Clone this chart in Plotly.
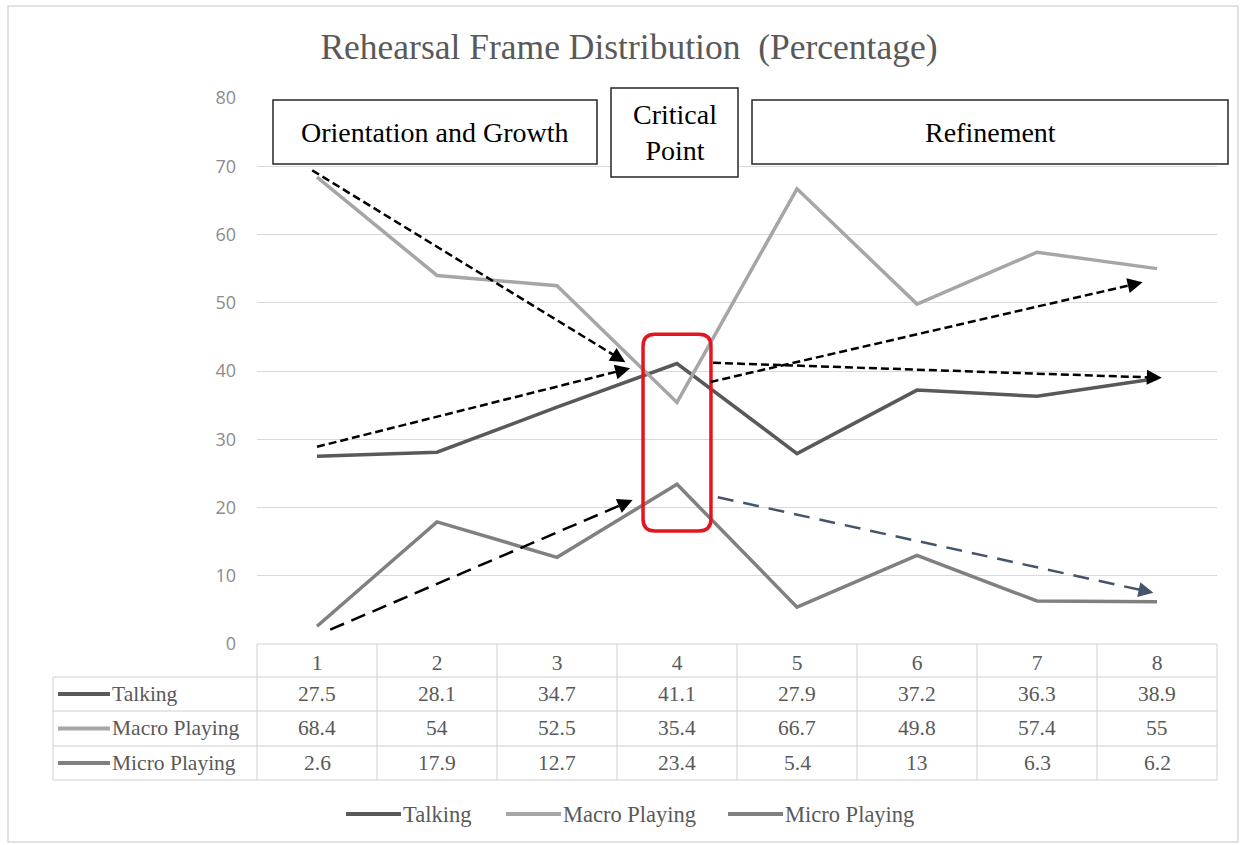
import plotly.graph_objects as go
import math

# ---------------- data ----------------
categories = [1, 2, 3, 4, 5, 6, 7, 8]
talking = [27.5, 28.1, 34.7, 41.1, 27.9, 37.2, 36.3, 38.9]
macro_playing = [68.4, 54, 52.5, 35.4, 66.7, 49.8, 57.4, 55]
micro_playing = [2.6, 17.9, 12.7, 23.4, 5.4, 13, 6.3, 6.2]
series_names = ["Talking", "Macro Playing", "Micro Playing"]
y_ticks = [0, 10, 20, 30, 40, 50, 60, 70, 80]
title_text = "Rehearsal Frame Distribution\u00a0\u00a0(Percentage)"
phase_labels = ["Orientation and Growth", "Critical<br>Point", "Refinement"]

# trend arrows: (start_x, start_y, tip_x, tip_y, dash, color)
trend_arrows = [
    (0.96, 69.4, 3.57, 41.3, "8px,4px", "#000000"),
    (1.00, 28.9, 3.61, 40.4, "8px,4px", "#000000"),
    (1.11, 2.1, 3.63, 21.1, "15px,8px", "#000000"),
    (4.28, 38.4, 7.88, 53.0, "8px,4px", "#000000"),
    (4.30, 41.2, 8.04, 39.0, "8px,4px", "#000000"),
    (4.34, 21.5, 7.97, 7.5, "16px,10px", "#44546a"),
]

colors = ["#595959", "#a6a6a6", "#808080"]
serif = "Liberation Serif, Times New Roman, serif"
text_gray = "#595959"
grid_gray = "#d9d9d9"

W, H = 1243, 845
ML, MR, MT, MB = 257, 26, 98, 201
plot_w = W - ML - MR
plot_h = H - MT - MB
PX_X = plot_w / 8.0     # px per category
PX_Y = plot_h / 80.0    # px per unit


def py_to_paper(py):
    return (H - MB - py) / plot_h


def px_to_paper(px):
    return (px - ML) / plot_w


fig = go.Figure()
for name, vals, col in zip(series_names, [talking, macro_playing, micro_playing], colors):
    fig.add_trace(go.Scatter(x=categories, y=vals, mode="lines", name=name,
                             line=dict(color=col, width=3.5), showlegend=False))

shapes = []
annotations = []

# ---------------- data table below plot ----------------
row_lines_px = [644, 677, 711, 746, 780]
row_y = [py_to_paper(v) for v in row_lines_px]
table_left = px_to_paper(53)
line_style = dict(color="#d0d0d0", width=1)
for i, yv in enumerate(row_y):
    x0 = 0 if i == 0 else table_left
    shapes.append(dict(type="line", xref="paper", yref="paper", x0=x0, x1=1, y0=yv, y1=yv,
                       line=line_style, layer="below"))
shapes.append(dict(type="line", xref="paper", yref="paper", x0=table_left, x1=table_left,
                   y0=row_y[1], y1=row_y[-1], line=line_style))
for k in range(9):
    xv = k / 8.0
    shapes.append(dict(type="line", xref="paper", yref="paper", x0=xv, x1=xv,
                       y0=row_y[0], y1=row_y[-1], line=line_style))

table_font = dict(family=serif, size=21.5, color=text_gray)
for r, (name, vals, col) in enumerate(zip(series_names, [talking, macro_playing, micro_playing], colors)):
    yc = (row_y[r + 1] + row_y[r + 2]) / 2
    shapes.append(dict(type="line", xref="paper", yref="paper", x0=px_to_paper(58), x1=px_to_paper(110),
                       y0=yc, y1=yc, line=dict(color=col, width=4)))
    annotations.append(dict(text=name, xref="paper", yref="paper", x=px_to_paper(110), y=yc,
                            xanchor="left", yanchor="middle", showarrow=False, font=table_font))
    for c, v in zip(categories, vals):
        annotations.append(dict(text=f"{v:g}", xref="x", yref="paper", x=c, y=yc,
                                xanchor="center", yanchor="middle", showarrow=False, font=table_font))

# ---------------- bottom legend (drawn) ----------------
legend_line_px = [346, 506, 728]
legend_font = dict(family=serif, size=22.5, color=text_gray)
ly = py_to_paper(814)
for name, col, lx in zip(series_names, colors, legend_line_px):
    shapes.append(dict(type="line", xref="paper", yref="paper", x0=px_to_paper(lx), x1=px_to_paper(lx + 55),
                       y0=ly, y1=ly, line=dict(color=col, width=4)))
    annotations.append(dict(text=name, xref="paper", yref="paper", x=px_to_paper(lx + 55), y=ly,
                            xanchor="left", yanchor="middle", showarrow=False, font=legend_font))

# ---------------- phase boxes ----------------
boxes = [(273, 597, 100, 164), (611, 738, 88, 177), (752, 1228, 100, 164)]
for (x0, x1, y0, y1), lab in zip(boxes, phase_labels):
    shapes.append(dict(type="rect", xref="paper", yref="paper",
                       x0=px_to_paper(x0), x1=px_to_paper(x1), y0=py_to_paper(y1), y1=py_to_paper(y0),
                       line=dict(color="#262626", width=1.5), fillcolor="white", layer="above"))
    annotations.append(dict(text=lab, xref="paper", yref="paper",
                            x=(px_to_paper(x0) + px_to_paper(x1)) / 2,
                            y=(py_to_paper(y0) + py_to_paper(y1)) / 2,
                            xanchor="center", yanchor="middle", showarrow=False,
                            font=dict(family=serif, size=28, color="#000000")))

# ---------------- red rounded highlight ----------------
rx0, rx1, ry0, ry1 = 3.717, 4.283, 16.56, 45.4
cx, cy = 12 / PX_X, 12 / PX_Y
path = (f"M {rx0+cx},{ry1} L {rx1-cx},{ry1} Q {rx1},{ry1} {rx1},{ry1-cy} "
        f"L {rx1},{ry0+cy} Q {rx1},{ry0} {rx1-cx},{ry0} L {rx0+cx},{ry0} "
        f"Q {rx0},{ry0} {rx0},{ry0+cy} L {rx0},{ry1-cy} Q {rx0},{ry1} {rx0+cx},{ry1} Z")
shapes.append(dict(type="path", xref="x", yref="y", path=path,
                   line=dict(color="#e3161f", width=3.5), layer="above"))

# ---------------- dashed trend arrows ----------------
for sx, sy, tx, ty, dash, col in trend_arrows:
    dxp = (tx - sx) * PX_X
    dyp = (ty - sy) * PX_Y
    L = math.hypot(dxp, dyp)
    back = 13.0
    bx = tx - (dxp / L) * back / PX_X
    by = ty - (dyp / L) * back / PX_Y
    shapes.append(dict(type="line", xref="x", yref="y", x0=sx, y0=sy, x1=bx, y1=by,
                       line=dict(color=col, width=2.5, dash=dash), layer="above"))
    annotations.append(dict(x=tx, y=ty, ax=bx, ay=by, xref="x", yref="y", axref="x", ayref="y",
                            text="", showarrow=True, arrowhead=2, arrowsize=1.5, arrowwidth=2,
                            arrowcolor=col, standoff=0))

# ---------------- outer frame ----------------
shapes.append(dict(type="rect", xref="paper", yref="paper",
                   x0=px_to_paper(8), x1=px_to_paper(1238), y0=py_to_paper(842), y1=py_to_paper(6),
                   line=dict(color="#d9d9d9", width=1.5), layer="below"))

fig.update_layout(
    width=W, height=H,
    margin=dict(l=ML, r=MR, t=MT, b=MB, autoexpand=False),
    paper_bgcolor="white", plot_bgcolor="white",
    title=dict(text=title_text, x=0.506, xref="container", xanchor="center",
               y=1 - 47 / H, yref="container", yanchor="middle",
               font=dict(family=serif, size=35.5, color=text_gray)),
    xaxis=dict(range=[0.5, 8.5], tickvals=categories, ticktext=[str(c) for c in categories],
               showgrid=False, zeroline=False, showline=False, ticks="",
               tickfont=table_font, ticklabelstandoff=3),
    yaxis=dict(range=[0, 80], tickvals=y_ticks, showgrid=True, gridcolor=grid_gray, gridwidth=1,
               zeroline=False, showline=False, ticks="",
               tickfont=dict(family="Open Sans, sans-serif", size=18, color="#8c8c8c"),
               ticklabelstandoff=20),
    showlegend=False,
    shapes=shapes,
    annotations=annotations,
)

fig.write_html("out.html", config={"displayModeBar": False},
               post_script="document.body.style.margin='0px';")
